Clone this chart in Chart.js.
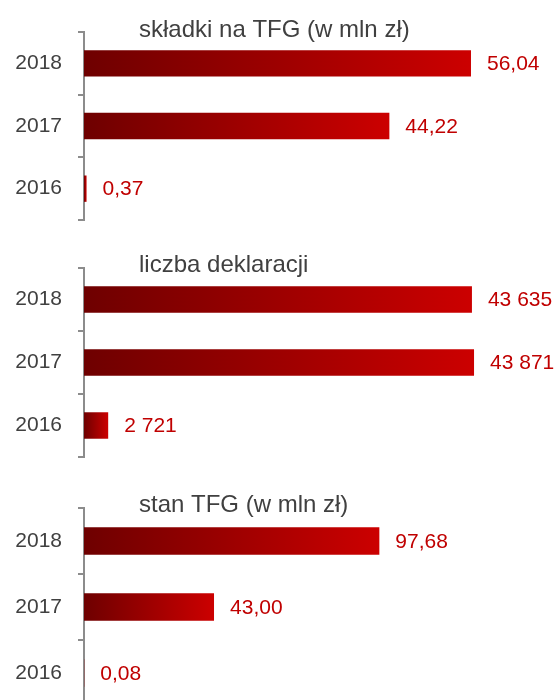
<!DOCTYPE html>
<html>
<head>
<meta charset="utf-8">
<script src="https://cdn.jsdelivr.net/npm/chart.js@4"></script>
<style>
  html, body { margin: 0; padding: 0; background: #fff; }
  body { width: 556px; height: 700px; overflow: hidden; position: relative; }
  .panel { position: absolute; left: 0; width: 556px; }
</style>
</head>
<body>
<div class="panel" style="top:0;height:222px"><canvas id="skladkiChart"></canvas></div>
<div class="panel" style="top:240px;height:219px"><canvas id="deklaracjeChart"></canvas></div>
<div class="panel" style="top:480px;height:228px"><canvas id="stanChart"></canvas></div>
<script>
// Data
const years = ['2018', '2017', '2016'];
const skladki = [56.04, 44.22, 0.37];
const deklaracje = [43635, 43871, 2721];
const stanTFG = [97.68, 43.00, 0.08];
const titles = ['składki na TFG (w mln zł)', 'liczba deklaracji', 'stan TFG (w mln zł)'];

const FONT = "'Liberation Sans', Arial, sans-serif";

const fmtDecimal = v => v.toFixed(2).replace('.', ',');
const fmtInt = v => String(v).replace(/\B(?=(\d{3})+(?!\d))/g, ' ');

// title + value labels
const panelPlugin = {
    id: 'panelPlugin',
    afterDatasetsDraw(chart, args, opts) {
        const ctx = chart.ctx;
        ctx.save();
        ctx.font = '21px ' + FONT;
        ctx.fillStyle = '#c00000';
        ctx.textAlign = 'left';
        ctx.textBaseline = 'middle';
        const meta = chart.getDatasetMeta(0);
        const values = chart.data.datasets[0].data;
        meta.data.forEach((bar, i) => {
            ctx.fillText(opts.format(values[i]), bar.x + 16, bar.y + 1);
        });
        ctx.font = '24px ' + FONT;
        ctx.fillStyle = '#404040';
        ctx.textBaseline = 'alphabetic';
        ctx.fillText(opts.title, 139, opts.titleY);
        ctx.restore();
    }
};

function barGradient(c) {
    const chart = c.chart;
    if (!chart.chartArea) return '#a00000';
    const x = chart.scales.x;
    const x0 = x.getPixelForValue(0);
    const x1 = Math.max(x.getPixelForValue(c.raw), x0 + 1);
    const g = chart.ctx.createLinearGradient(x0, 0, x1, 0);
    g.addColorStop(0, '#6e0000');
    g.addColorStop(1, '#cc0000');
    return g;
}

function makeChart(id, values, title, titleY, xMax, padTop, format) {
    return new Chart(document.getElementById(id), {
        type: 'bar',
        data: {
            labels: years,
            datasets: [{
                data: values,
                backgroundColor: barGradient,
                borderWidth: 0,
                categoryPercentage: 1,
                barPercentage: 0.42
            }]
        },
        options: {
            indexAxis: 'y',
            responsive: true,
            maintainAspectRatio: false,
            animation: false,
            layout: { padding: { top: padTop, bottom: 2, left: 0, right: 0 } },
            plugins: {
                legend: { display: false },
                tooltip: { enabled: false },
                panelPlugin: { title: title, titleY: titleY, format: format }
            },
            scales: {
                x: { display: false, min: 0, max: xMax },
                y: {
                    afterFit(scale) {
                        scale.width = 84;
                        scale.paddingTop = 0;
                        scale.paddingBottom = 0;
                    },
                    border: { display: true, color: '#8c8c8c', width: 2 },
                    grid: { drawOnChartArea: false, drawTicks: true, tickLength: 6, color: '#8c8c8c', lineWidth: 2, offset: true },
                    ticks: { color: '#404040', padding: 16, font: { family: FONT, size: 21 } }
                }
            }
        },
        plugins: [panelPlugin]
    });
}

makeChart('skladkiChart', skladki, titles[0], 37, 68.35, 32, fmtDecimal);
makeChart('deklaracjeChart', deklaracje, titles[1], 32, 53090, 28, fmtInt);
makeChart('stanChart', stanTFG, titles[2], 32, 156.1, 28, fmtDecimal);
</script>
</body>
</html>
